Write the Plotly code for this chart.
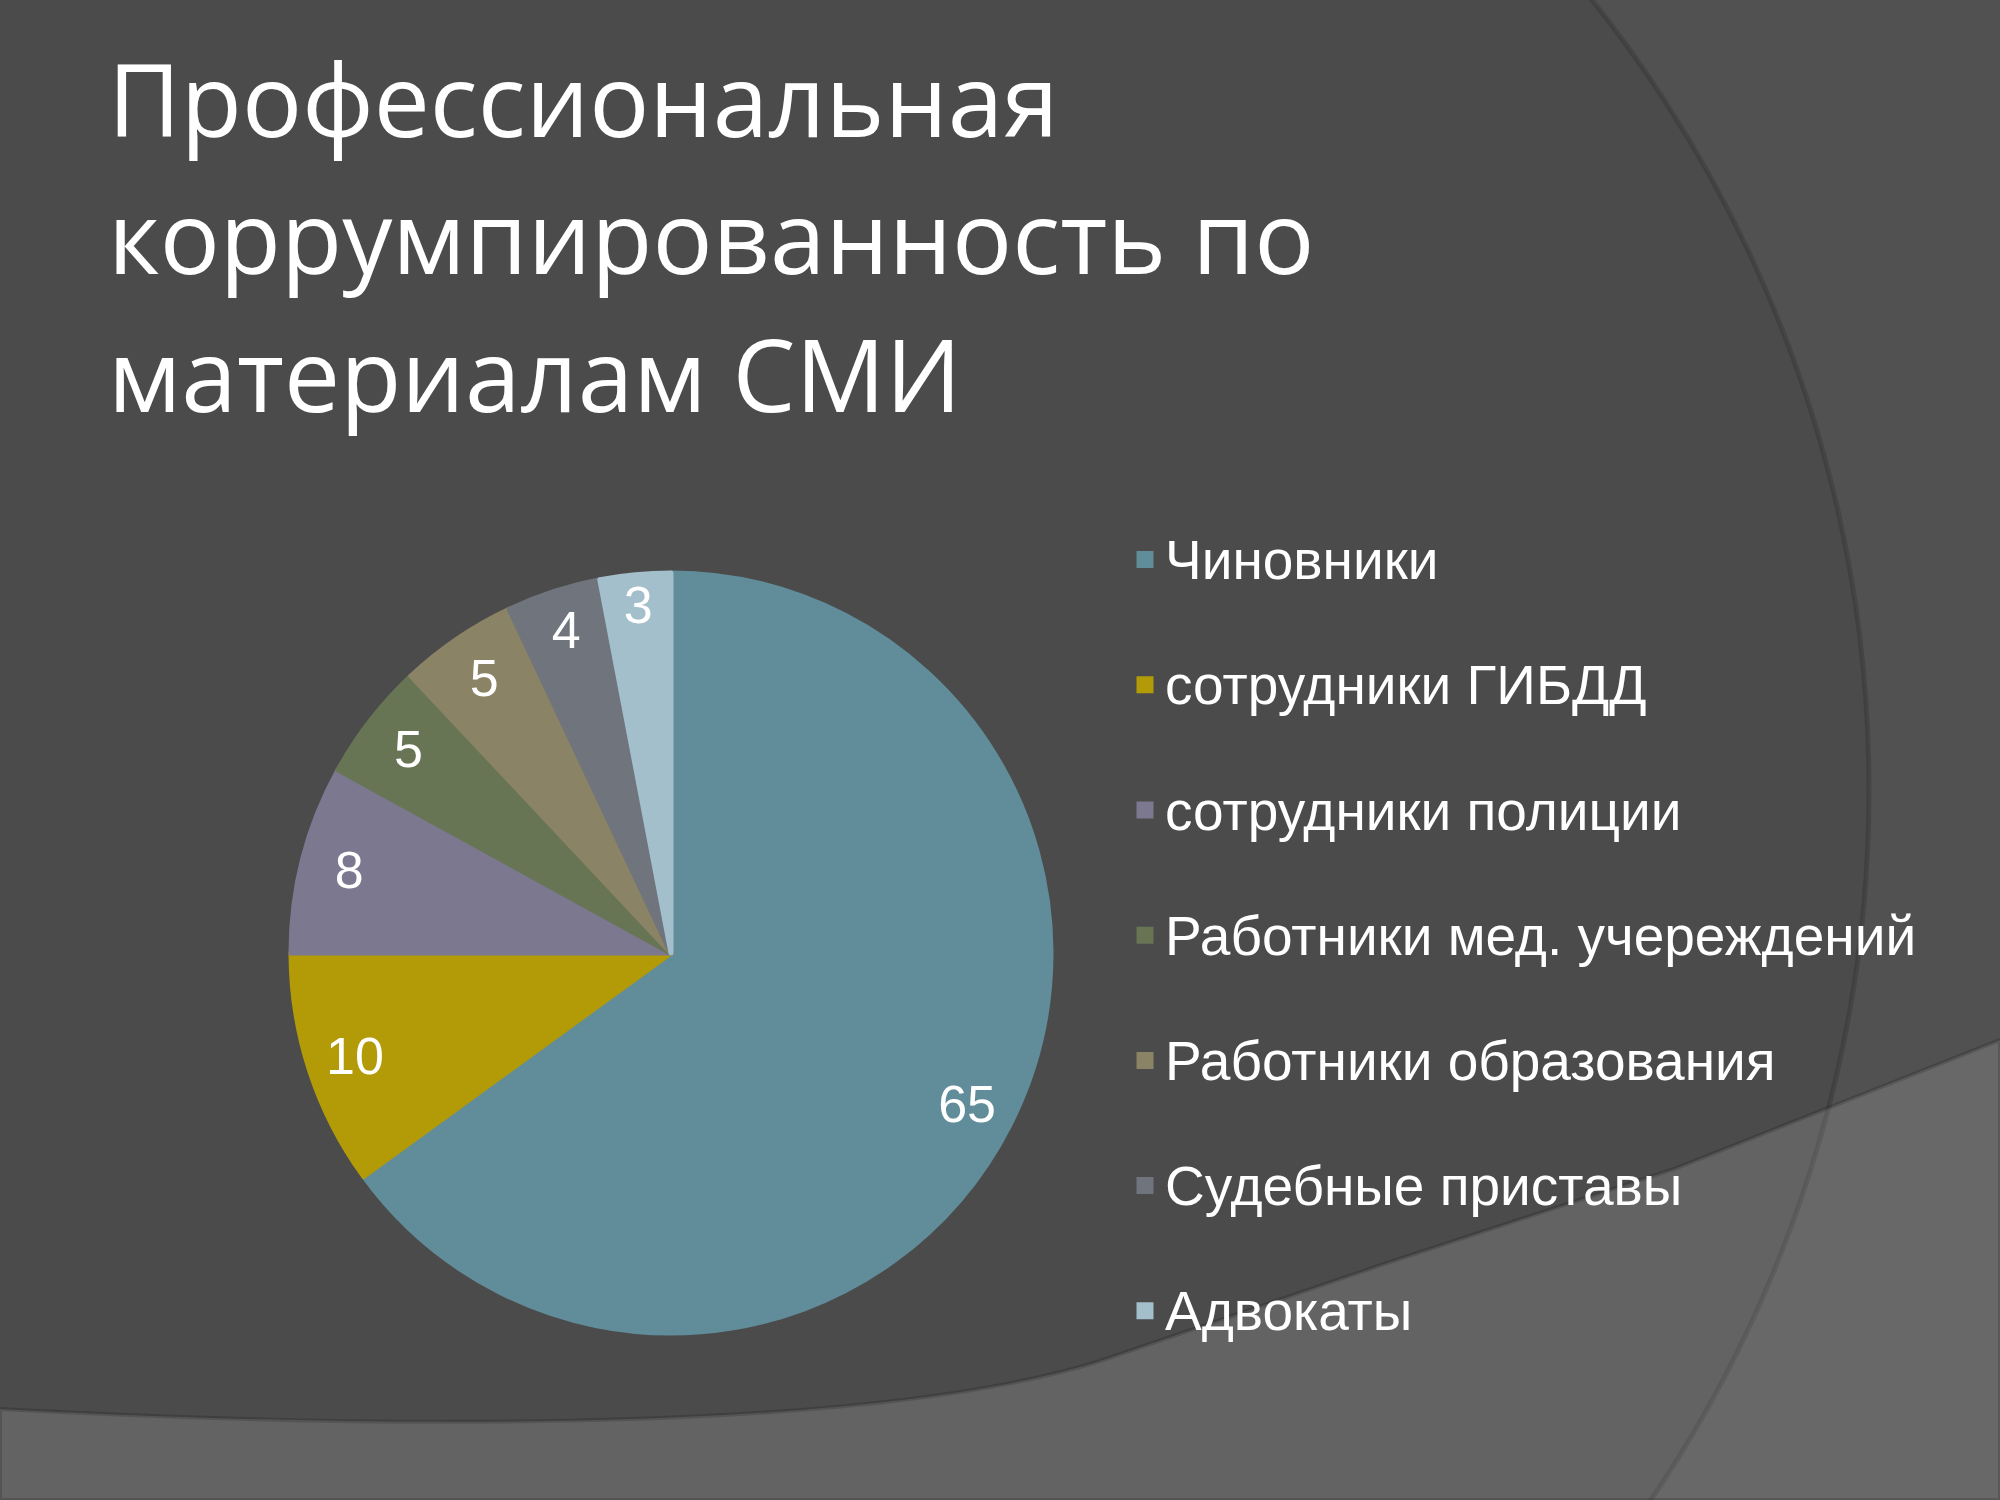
import plotly.graph_objects as go

# ---- data ----
CATEGORIES = [
    "Чиновники",
    "сотрудники ГИБДД",
    "сотрудники полиции",
    "Работники мед. учереждений",
    "Работники образования",
    "Судебные приставы",
    "Адвокаты",
]
VALUES = [65, 10, 8, 5, 5, 4, 3]
COLORS = ["#618c99", "#b39b08", "#7b788f", "#677555", "#8b8365", "#6f747d", "#a2bfcb"]
TITLE_LINES = ["Профессиональная", "коррумпированность по", "материалам СМИ"]

W, H = 2000, 1500
FONT = "Liberation Sans, Arial, sans-serif"
TITLE_FONT = "Open Sans, Liberation Sans, sans-serif"


def px(x):
    return x / W


def py(y):
    return 1 - y / H


# legend labels (smaller text inside a tall legend row)
LEGEND_LABELS = [
    f"<span style='font-size:55px;baseline-shift:17px'>{c}</span>" for c in CATEGORIES
]

fig = go.Figure()

# main pie (colours + legend)
fig.add_trace(go.Pie(
    labels=LEGEND_LABELS,
    values=VALUES,
    sort=False,
    direction="clockwise",
    rotation=0,
    marker=dict(colors=COLORS, line=dict(color=COLORS, width=5)),
    textinfo="none",
    hoverinfo="label+value",
    domain=dict(x=[px(671 - 380), px(671 + 380)], y=[py(953 + 380), py(953 - 380)]),
    showlegend=True,
))

# transparent ring carrying the value labels near the outer edge
fig.add_trace(go.Pie(
    labels=CATEGORIES,
    values=VALUES,
    sort=False,
    direction="clockwise",
    rotation=0,
    hole=0.74,
    marker=dict(colors=["rgba(0,0,0,0)"] * len(VALUES), line=dict(width=0)),
    textinfo="value",
    textposition="inside",
    insidetextorientation="horizontal",
    textfont=dict(family=FONT, size=52, color="white"),
    hoverinfo="skip",
    domain=dict(x=[px(671 - 382), px(671 + 382)], y=[py(953 + 382), py(953 - 382)]),
    showlegend=False,
))

# title lines
ann = []
title_baselines = [137, 274, 412]
for line, base in zip(TITLE_LINES, title_baselines):
    ann.append(dict(
        text=line, x=px(106), y=py(base - 39), xref="paper", yref="paper",
        xanchor="left", yanchor="middle", showarrow=False,
        font=dict(family=TITLE_FONT, size=100, color="white"),
    ))

# background decoration
R = 1265
cx, cy = 604, 790
shapes = [
    dict(type="circle", xref="paper", yref="paper", layer="below",
         x0=px(cx - R), x1=px(cx + R), y0=py(cy + R), y1=py(cy - R),
         fillcolor="#4b4b4b", line=dict(color="rgba(0,0,0,0.14)", width=5)),
]
band_pts = [(0, 1409), (300, 1425), (850, 1440), (1100, 1361)]
band_line = [(1387, 1263), (1674, 1169), (2000, 1040)]
path = f"M {px(0)},{py(1500)} L {px(0)},{py(1409)} "
path += "C " + " ".join(f"{px(x)},{py(y)}" for x, y in band_pts[1:]) + " "
path += " ".join(f"L {px(x)},{py(y)}" for x, y in band_line)
path += f" L {px(2000)},{py(1500)} Z"
shapes.append(dict(type="path", path=path, xref="paper", yref="paper", layer="below",
                   fillcolor="rgba(255,255,255,0.133)",
                   line=dict(color="rgba(0,0,0,0.15)", width=4)))

fig.update_layout(
    width=W, height=H,
    margin=dict(l=0, r=0, t=0, b=0),
    paper_bgcolor="#515151",
    plot_bgcolor="rgba(0,0,0,0)",
    font=dict(family=FONT, color="white"),
    annotations=ann,
    shapes=shapes,
    uniformtext=dict(minsize=52, mode="show"),
    legend=dict(
        x=px(1125), y=py(492), xanchor="left", yanchor="top",
        font=dict(family=FONT, size=94, color="white"),
        bgcolor="rgba(0,0,0,0)", traceorder="normal",
    ),
)

fig.write_html(
    "out.html",
    config={"displayModeBar": False},
    post_script="document.body.style.margin='0';document.body.style.overflow='hidden';",
)
